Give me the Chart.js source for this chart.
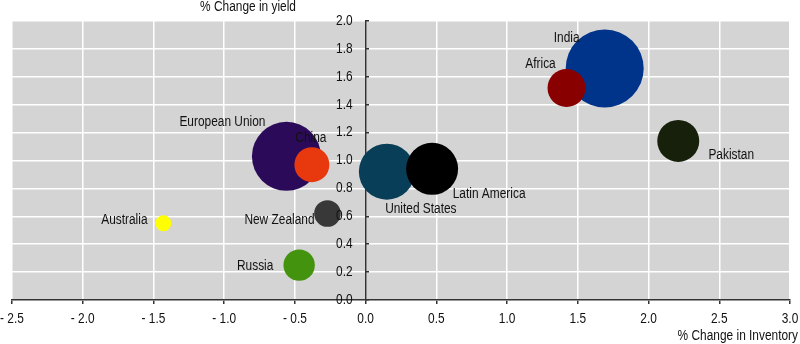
<!DOCTYPE html>
<html>
<head>
<meta charset="utf-8">
<script src="https://cdn.jsdelivr.net/npm/chart.js@4/dist/chart.umd.min.js"></script>
<style>
  html, body { margin: 0; padding: 0; background: #fff; }
  canvas { display: block; }
</style>
</head>
<body>
<canvas id="yield-chart" width="800" height="344"></canvas>
<script>
const regions = ['India', 'Africa', 'Pakistan', 'European Union', 'China', 'United States', 'Latin America', 'New Zealand', 'Australia', 'Russia'];
const inventoryChange = [1.69, 1.42, 2.21, -0.56, -0.38, 0.15, 0.47, -0.27, -1.43, -0.47];
const yieldChange = [1.66, 1.52, 1.14, 1.03, 0.97, 0.92, 0.94, 0.62, 0.55, 0.25];
const bubbleSize = [39, 19, 21, 34.5, 17.5, 28, 26, 13.3, 8, 15.7];
const xTicks = [-2.5, -2.0, -1.5, -1.0, -0.5, 0.0, 0.5, 1.0, 1.5, 2.0, 2.5, 3.0];
const yTicks = [0.0, 0.2, 0.4, 0.6, 0.8, 1.0, 1.2, 1.4, 1.6, 1.8, 2.0];

const colors = ['#00338a', '#880000', '#16200a', '#2b0b59', '#e8380d', '#083e57', '#000000', '#383838', '#ffff00', '#43930f'];
// label offsets from the bubble centre, in px
const labelOffsets = [[-38, -30], [-26, -24], [53, 14], [-64, -34], [-1, -27], [34, 37], [57, 25], [-48, 7], [-39, -3], [-44, 1]];

const FONT = "14px 'Liberation Sans', Arial, sans-serif";
const TEXT = '#111111';
const SQUEEZE = 0.85; // narrow type

const fmt = v => (v < 0 ? '- ' + Math.abs(v).toFixed(1) : v.toFixed(1));

// condensed text: scale x around the anchor point
function narrowText(ctx, str, x, y, align) {
  ctx.save();
  ctx.translate(x, y);
  ctx.scale(SQUEEZE, 1);
  ctx.textAlign = align;
  ctx.fillText(str, 0, 0);
  ctx.restore();
}

const plotBackground = {
  id: 'plotBackground',
  beforeDraw(chart) {
    const { ctx, chartArea: a } = chart;
    ctx.save();
    ctx.fillStyle = '#d4d4d4';
    ctx.fillRect(a.left, a.top, a.right - a.left, a.bottom - a.top);
    ctx.restore();
  }
};

const textLayer = {
  id: 'textLayer',
  afterDraw(chart) {
    const { ctx, chartArea: a, scales: { x, y } } = chart;
    ctx.save();
    ctx.font = FONT;
    ctx.fillStyle = TEXT;
    ctx.textBaseline = 'middle';

    // tick labels
    const yAxisX = x.getPixelForValue(0);
    x.ticks.forEach(t => narrowText(ctx, fmt(t.value), x.getPixelForValue(t.value), a.bottom + 19, 'center'));
    y.ticks.forEach(t => narrowText(ctx, fmt(t.value), yAxisX - 13, y.getPixelForValue(t.value), 'right'));

    // bubble names
    const meta = chart.getDatasetMeta(0);
    meta.data.forEach((pt, i) => {
      narrowText(ctx, regions[i], pt.x + labelOffsets[i][0], pt.y + labelOffsets[i][1], 'center');
    });

    // axis titles
    narrowText(ctx, '% Change in yield', a.left + 236, 7, 'center');
    narrowText(ctx, '% Change in Inventory', a.right + 8, 336, 'right');
    ctx.restore();
  }
};

new Chart(document.getElementById('yield-chart'), {
  type: 'bubble',
  data: {
    datasets: [{
      data: regions.map((r, i) => ({ x: inventoryChange[i], y: yieldChange[i], r: bubbleSize[i] })),
      backgroundColor: colors,
      borderWidth: 0
    }]
  },
  options: {
    responsive: false,
    animation: false,
    layout: { autoPadding: false, padding: { top: 21, left: 12, right: 10, bottom: 18 } },
    plugins: { legend: { display: false }, tooltip: { enabled: false } },
    scales: {
      x: {
        type: 'linear',
        min: -2.5,
        max: 3.0,
        afterBuildTicks: s => { s.ticks = xTicks.map(v => ({ value: v })); },
        afterFit: s => { s.height = 26; s.paddingLeft = 0; s.paddingRight = 0; },
        grid: { color: '#ffffff', lineWidth: 1.5, tickColor: '#333', tickLength: 4, tickWidth: 1.5 },
        border: { color: '#333', width: 1.5 },
        ticks: { display: false }
      },
      y: {
        type: 'linear',
        position: { x: 0 },
        min: 0,
        max: 2.0,
        afterBuildTicks: s => { s.ticks = yTicks.map(v => ({ value: v })); },
        afterFit: s => { s.width = 0; s.paddingTop = 0; s.paddingBottom = 0; },
        grid: { color: '#ffffff', lineWidth: 1.5, tickColor: '#333', tickLength: -4, tickWidth: 1.5 },
        border: { color: '#333', width: 1.5 },
        ticks: { display: false }
      }
    }
  },
  plugins: [plotBackground, textLayer]
});
</script>
</body>
</html>
